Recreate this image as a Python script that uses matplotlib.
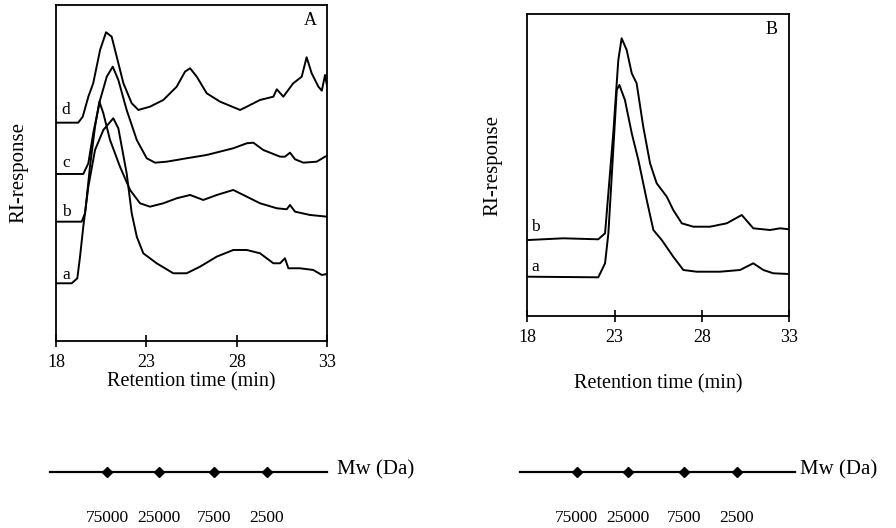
import matplotlib
matplotlib.use("Agg")
import matplotlib.pyplot as plt

plt.rcParams['font.family'] = ['Liberation Serif', 'DejaVu Serif']

# ---------------- Panel A data (retention time in min, RI response arbitrary units) -------------
a_d_t = [18.00, 19.23, 19.48, 19.79, 20.06, 20.44, 20.77, 21.08, 21.36, 21.73, 22.19, 22.56,
         23.20, 23.94, 24.68, 25.14, 25.42, 25.79, 26.34, 27.08, 28.19, 28.56, 29.29, 30.03,
         30.22, 30.58, 31.13, 31.60, 31.87, 32.15, 32.52, 32.71, 32.89, 33.00]
a_d_y = [218.3, 218.3, 224.3, 244.3, 257.7, 291.0, 308.7, 304.3, 284.3, 257.7, 237.7, 231.0,
         234.3, 241.0, 254.3, 269.3, 272.7, 264.3, 247.7, 239.3, 231.0, 234.3, 241.0, 244.3,
         251.7, 244.3, 257.7, 264.3, 283.7, 267.7, 254.3, 250.3, 266.0, 255.0]

a_c_t = [18.00, 19.51, 19.79, 20.06, 20.44, 20.81, 21.14, 21.45, 21.91, 22.47, 23.02, 23.48,
         24.13, 25.23, 26.34, 27.81, 28.56, 28.92, 29.47, 30.40, 30.67, 30.95, 31.23, 31.69,
         32.43, 32.89, 33.00]
a_c_y = [167.0, 167.0, 177.7, 207.7, 241.0, 264.3, 274.3, 261.0, 231.0, 201.0, 182.7, 178.3,
         179.3, 182.7, 186.0, 192.7, 197.7, 198.3, 191.0, 184.3, 184.3, 188.3, 181.7, 178.3,
         179.3, 184.3, 185.0]

a_b_t = [18.00, 19.42, 19.61, 19.88, 20.16, 20.40, 20.62, 20.99, 21.54, 22.10, 22.65, 23.20,
         23.94, 24.68, 25.42, 26.15, 26.90, 27.81, 28.37, 29.29, 30.22, 30.77, 30.95, 31.23,
         32.06, 33.00]
a_b_y = [119.3, 119.3, 127.7, 174.3, 214.3, 239.3, 227.7, 201.0, 174.3, 151.0, 137.7, 134.3,
         137.7, 142.7, 146.0, 141.0, 146.0, 151.0, 146.0, 137.7, 132.7, 131.7, 136.0, 129.3,
         126.0, 124.3]

a_a_t = [18.00, 18.87, 19.18, 19.33, 19.51, 19.79, 20.16, 20.62, 21.17, 21.45, 21.91, 22.19,
         22.47, 22.83, 23.57, 24.49, 25.23, 25.97, 26.89, 27.81, 28.56, 29.29, 30.03, 30.40,
         30.67, 30.86, 31.50, 32.24, 32.71, 33.00]
a_a_y = [57.7, 57.7, 62.7, 84.3, 114.3, 154.3, 191.0, 211.0, 222.7, 212.7, 167.7, 127.7,
         104.3, 87.7, 77.7, 67.7, 67.7, 74.3, 84.3, 91.0, 91.0, 87.7, 77.7, 77.7,
         82.7, 72.7, 72.7, 71.0, 66.0, 67.0]

# ---------------- Panel B data -------------
b_b_t = [18.05, 20.05, 22.06, 22.45, 22.92, 23.21, 23.40, 23.69, 23.98, 24.26, 24.64, 25.03,
         25.41, 25.99, 26.36, 26.85, 27.51, 28.47, 29.43, 30.29, 30.95, 31.91, 32.49, 33.00]
b_b_y = [76.0, 77.7, 76.7, 82.7, 182.7, 256.0, 277.7, 266.0, 242.7, 232.7, 189.3, 152.7,
         132.7, 119.3, 106.0, 92.7, 89.3, 89.3, 92.7, 101.0, 87.7, 86.0, 87.7, 86.7]

b_a_t = [18.05, 22.06, 22.45, 22.64, 22.92, 23.12, 23.27, 23.59, 23.98, 24.36, 24.84, 25.22,
         25.70, 26.36, 26.94, 27.71, 29.04, 30.19, 30.95, 31.53, 32.10, 33.00]
b_a_y = [39.3, 38.7, 52.7, 82.7, 166.0, 226.0, 231.0, 216.0, 182.7, 156.0, 116.0, 86.0,
         76.0, 59.3, 46.0, 44.3, 44.3, 46.0, 52.7, 46.0, 42.7, 42.0]

# ---------------- Axes ticks and molecular-weight calibration -------------
x_ticks = [18, 23, 28, 33]
mw_labels = ['75000', '25000', '7500', '2500']
mw_rt_A = [20.85, 23.70, 26.75, 29.65]
mw_rt_B = [20.82, 23.75, 27.00, 30.00]

curve_labels = ['a', 'b', 'c', 'd']
label_y_A = [66, 129, 178, 231]
label_y_B = [49, 89]

fig = plt.figure(figsize=(8.96, 5.28), dpi=100)

axA = fig.add_axes([0.0625, 0.3542, 0.3025, 0.6364])
axB = fig.add_axes([0.5887, 0.4015, 0.2919, 0.5720])

lw = 1.4
for t, y in [(a_a_t, a_a_y), (a_b_t, a_b_y), (a_c_t, a_c_y), (a_d_t, a_d_y)]:
    axA.plot(t, y, color='black', lw=lw)
for t, y in [(b_a_t, b_a_y), (b_b_t, b_b_y)]:
    axB.plot(t, y, color='black', lw=lw)

axA.set_ylim(0, 336)
axB.set_ylim(0, 302)

for ax, xlp, ylp in [(axA, 1, 20), (axB, 20, 18)]:
    ax.set_xlim(18, 33)
    ax.set_xticks(x_ticks)
    ax.set_xticklabels([str(v) for v in x_ticks])
    ax.set_yticks([])
    ax.tick_params(axis='x', direction='inout', length=9, width=1.2, pad=5, labelsize=13)
    for s in ax.spines.values():
        s.set_linewidth(1.3)
    ax.set_xlabel('Retention time (min)', fontsize=14.5, labelpad=xlp)
    ax.set_ylabel('RI-response', fontsize=15, labelpad=ylp)

for lab, yv in zip(curve_labels, label_y_A):
    axA.text(18.55, yv, lab, fontsize=12.5, ha='center', va='center')
for lab, yv in zip(curve_labels[:2], label_y_B):
    axB.text(18.45, yv, lab, fontsize=12.5, ha='center', va='center')

axA.text(32.1, 320, 'A', fontsize=13, ha='center', va='center')
axB.text(32.0, 286, 'B', fontsize=13, ha='center', va='center')

# ---------------- Mw scales under each panel -------------
for pos, rts, x0, x1 in [([0.0625, 0.0, 0.3025, 0.2], mw_rt_A, 17.67, 33.0),
                          ([0.5887, 0.0, 0.2919, 0.2], mw_rt_B, 17.57, 33.35)]:
    mx = fig.add_axes(pos)
    mx.set_xlim(18, 33)
    mx.set_ylim(0, 1)
    mx.axis('off')
    mx.plot([x0, x1], [0.53, 0.53], color='black', lw=1.6, clip_on=False)
    mx.plot(rts, [0.53] * len(rts), linestyle='none', marker='D', markersize=5.5,
            color='black', clip_on=False)
    for r, lab in zip(rts, mw_labels):
        mx.text(r, 0.095, lab, fontsize=12.5, ha='center', va='center', clip_on=False)
    mx.text(x1 + 0.55 if x1 < 33.2 else x1 + 0.3, 0.55, 'Mw (Da)', fontsize=15,
            ha='left', va='center', clip_on=False)

fig.savefig('out.png', dpi=100)
